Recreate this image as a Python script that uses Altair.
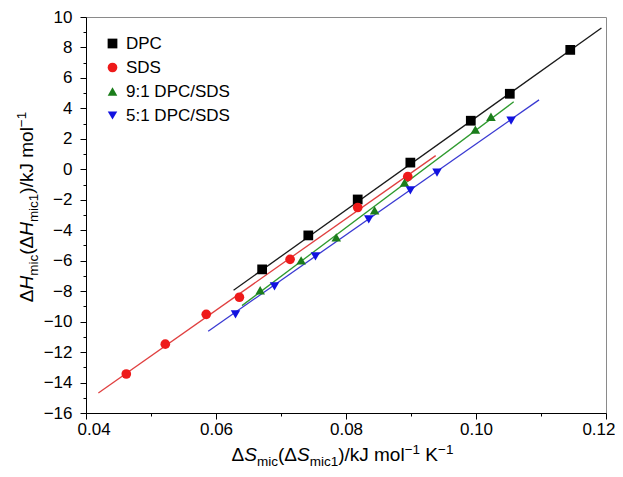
import altair as alt
import pandas as pd

series = ["DPC", "SDS", "9:1 DPC/SDS", "5:1 DPC/SDS"]

dpc_x = [0.0671, 0.0742, 0.0818, 0.0899, 0.0992, 0.1052, 0.1145]
dpc_y = [-6.57, -4.34, -1.98, 0.44, 3.19, 4.96, 7.84]
sds_x = [0.0462, 0.0522, 0.0585, 0.0636, 0.0714, 0.0818, 0.0895]
sds_y = [-13.44, -11.48, -9.52, -8.40, -5.91, -2.51, -0.48]
r91_x = [0.0668, 0.0731, 0.0785, 0.0844, 0.0890, 0.0999, 0.1023]
r91_y = [-7.94, -5.98, -4.47, -2.70, -0.87, 2.60, 3.45]
r51_x = [0.0630, 0.0690, 0.0753, 0.0835, 0.0899, 0.0940, 0.1054]
r51_y = [-9.52, -7.68, -5.72, -3.29, -1.39, -0.22, 3.19]

fit_x_start = [0.0627, 0.0419, 0.0640, 0.0588]
fit_x_end = [0.1193, 0.0938, 0.1058, 0.1097]
fit_y_start = [-7.94, -14.69, -8.95, -10.63]
fit_y_end = [9.28, 0.90, 4.43, 4.56]

x_major = [0.04, 0.06, 0.08, 0.10, 0.12]
x_minor = [0.05, 0.07, 0.09, 0.11]
y_major = list(range(-16, 11, 2))
y_minor = list(range(-15, 10, 2))

marker_colors = ["#000000", "#ee1a1a", "#1b7d1b", "#1212e0"]
line_colors = ["#1a1a1a", "#e04040", "#2e9a2e", "#3a3ad2"]
shapes = ["square", "circle", "triangle-up", "triangle-down"]
sizes = [95, 90, 115, 115]

FONT = "Liberation Sans"
W, H = 520, 396

rows = []
for name, xs, ys in zip(series, [dpc_x, sds_x, r91_x, r51_x], [dpc_y, sds_y, r91_y, r51_y]):
    for a, b in zip(xs, ys):
        rows.append({"series": name, "x": a, "y": b})
pts = pd.DataFrame(rows)

lrows = []
for name, c, x0, x1, y0, y1 in zip(series, line_colors, fit_x_start, fit_x_end, fit_y_start, fit_y_end):
    lrows.append({"series": name, "col": c, "x": x0, "y": y0})
    lrows.append({"series": name, "col": c, "x": x1, "y": y1})
lines = pd.DataFrame(lrows)

xscale = alt.Scale(domain=[0.04, 0.12], nice=False, zero=False)
yscale = alt.Scale(domain=[-16, 10], nice=False, zero=False)

axis_common = dict(title=None, grid=False, domainColor="black", tickColor="black",
                   labelColor="black", labelFont=FONT, labelFontSize=17, domainWidth=1, tickWidth=1,
                   labelOverlap=False)

line_layer = alt.Chart(lines).mark_line(strokeWidth=1.3).encode(
    x=alt.X("x:Q", scale=xscale, axis=alt.Axis(values=x_major, format=".2f", tickSize=6,
                                                labelPadding=2, orient="bottom", labelFlush=True,
                                                labelFlushOffset=9, **axis_common)),
    y=alt.Y("y:Q", scale=yscale, axis=alt.Axis(values=y_major, format="d", tickSize=6,
                                                labelPadding=8, orient="left", labelFlush=False,
                                                **axis_common)),
    color=alt.Color("col:N", scale=None),
    detail="series:N",
)

minor_layer = alt.Chart(lines).mark_line(strokeOpacity=0).encode(
    x=alt.X("x:Q", scale=xscale, axis=alt.Axis(values=x_minor, labels=False, domain=False, tickSize=3,
                                                tickColor="black", grid=False, title=None, orient="bottom")),
    y=alt.Y("y:Q", scale=yscale, axis=alt.Axis(values=y_minor, labels=False, domain=False, tickSize=3,
                                                tickColor="black", grid=False, title=None, orient="left")),
    detail="series:N",
)

leg = alt.Legend(orient="none", legendX=18, legendY=18, title=None, labelFont=FONT,
                 labelFontSize=17, labelColor="black", symbolSize=50, rowPadding=6,
                 labelOffset=5, padding=0, symbolStrokeWidth=0)

point_layer = alt.Chart(pts).mark_point(filled=True, opacity=1).encode(
    x=alt.X("x:Q", scale=xscale, axis=None),
    y=alt.Y("y:Q", scale=yscale, axis=None),
    color=alt.Color("series:N", scale=alt.Scale(domain=series, range=marker_colors), legend=leg,
                    sort=series),
    shape=alt.Shape("series:N", scale=alt.Scale(domain=series, range=shapes), legend=leg, sort=series),
    size=alt.Size("series:N", scale=alt.Scale(domain=series, range=sizes), legend=None),
)

# --- composite axis titles (italic symbols, subscripts, superscripts) ---
NORM, SMALL = 19, 13.5
widths = {"Δ": 0.668, "S": 0.667, "H": 0.722, "m": 0.833, "i": 0.222, "c": 0.5, "1": 0.556,
          "(": 0.333, ")": 0.333, "/": 0.278, "k": 0.5, "J": 0.5, " ": 0.278, "o": 0.556,
          "l": 0.222, "K": 0.667, "−": 0.584}


def tw(s, fs):
    return sum(widths.get(ch, 0.55) for ch in s) * fs


def pieces(sym):
    return [("Δ", NORM, "normal", 0), (sym, NORM, "italic", 0), ("mic", SMALL, "normal", 4.5),
            ("(Δ", NORM, "normal", 0), (sym, NORM, "italic", 0), ("mic1", SMALL, "normal", 4.5),
            (")/kJ mol", NORM, "normal", 0), ("−1", SMALL, "normal", -7.5)]


x_pieces = pieces("S") + [(" K", NORM, "normal", 0), ("−1", SMALL, "normal", -7.5)]
y_pieces = pieces("H")

one = alt.Data(values=[{"k": 0}])
title_layers = []


def add_title(pcs, ax, ay, angle):
    off = 0.0
    for t, f, st, d in pcs:
        lead = len(t) - len(t.lstrip(" "))
        off_here = off + tw(" " * lead, f)
        kw = dict(text=t.lstrip(" "), font=FONT, fontSize=f, fontStyle=st, align="left",
                  baseline="alphabetic", dx=off_here, dy=d, color="black")
        if angle:
            kw["angle"] = angle
        title_layers.append(alt.Chart(one).mark_text(**kw).encode(x=alt.value(ax), y=alt.value(ay)))
        off += tw(t, f)


xw = sum(tw(t, f) for t, f, _, _ in x_pieces)
add_title(x_pieces, 256.5 - xw / 2, 444, 0)

yw = sum(tw(t, f) for t, f, _, _ in y_pieces)
add_title(y_pieces, -53, 190 + yw / 2, 270)

chart = alt.layer(line_layer, minor_layer, point_layer, *title_layers).resolve_axis(
    x="independent", y="independent"
).properties(
    width=W, height=H,
    padding={"left": 78, "top": 9, "right": 9, "bottom": 56},
    autosize=alt.AutoSizeParams(type="none"),
    background="white",
).configure_view(stroke="#8a8a8a", strokeWidth=1)

chart.save("out.html", embed_options={"renderer": "svg", "actions": False})
